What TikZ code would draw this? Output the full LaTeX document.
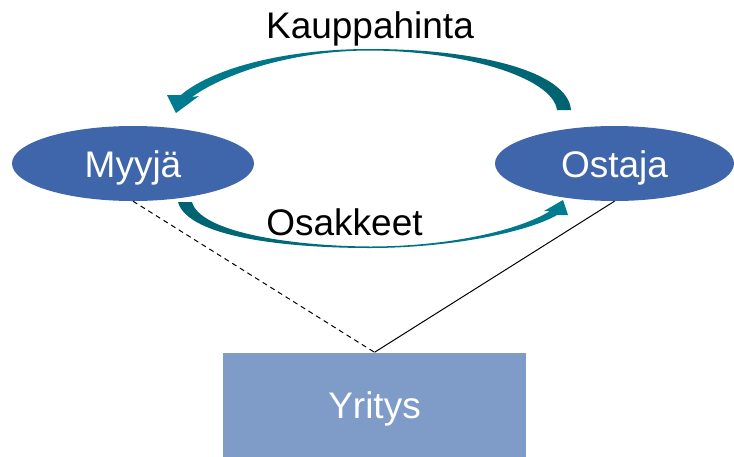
\documentclass[tikz,border=0pt]{standalone}
\usepackage{fontspec}
\setmainfont{Liberation Sans}
\usetikzlibrary{shapes.geometric}
\definecolor{partyblue}{RGB}{63,101,170}
\definecolor{firmblue}{RGB}{127,155,200}
\definecolor{tealdark}{RGB}{0,98,112}
\definecolor{teallight}{RGB}{0,124,144}
\definecolor{tealmid}{RGB}{40,140,158}
\tikzset{
  bigtext/.style={font=\fontsize{37pt}{44pt}\selectfont},
  party/.style={ellipse, fill=partyblue, draw=none, text=white, bigtext,
    minimum width=242pt, minimum height=75pt, inner sep=0pt,
    text height=27pt, text depth=0pt},
  firm/.style={rectangle, fill=firmblue, draw=none, text=white, bigtext,
    minimum width=303pt, minimum height=104pt, inner sep=0pt,
    text height=27pt, text depth=0pt},
  flowlabel/.style={bigtext, text=black, anchor=base, inner sep=0pt},
  link/.style={draw=black, line width=1pt},
  dashlink/.style={link, dash pattern=on 5pt off 4pt}
}
\begin{document}
\begin{tikzpicture}[x=1pt,y=-1pt]
\useasboundingbox (0,0) rectangle (734,456);
\node[party] (myyja) at (133,163.5) {Myyjä};
\node[party, minimum width=239pt] (ostaja) at (614.5,163.5) {Ostaja};
\node[firm] (yritys) at (374.5,404.5) {Yritys};
\draw[dashlink] (myyja.south) -- (yritys.north);
\draw[link] (ostaja.south) -- (yritys.north);
% top arrow: Ostaja -> Myyja
\shade[left color=teallight, middle color=tealmid, right color=tealdark]
  (571,110) .. controls (568,72) and (480,49) .. (370,49)
  .. controls (280,49) and (210,70) .. (181,95)
  -- (167,95) -- (176,113) -- (199,96) -- (192,97)
  .. controls (222,75) and (290,50.5) .. (370,50.5)
  .. controls (466,51) and (553,78) .. (557,110) -- cycle;
% bottom arrow: Myyja -> Ostaja
\shade[left color=tealdark, middle color=tealmid, right color=teallight]
  (178,202) .. controls (188,238) and (290,248) .. (370,248)
  .. controls (450,248) and (528,232) .. (557,215)
  -- (568,215) -- (563,200) -- (544,211) -- (550,211)
  .. controls (520,230) and (450,246.5) .. (370,246.5)
  .. controls (290,246) and (200,232) .. (192,202) -- cycle;
\node[flowlabel] (kauppahinta) at (370,38) {Kauppahinta};
\node[flowlabel] (osakkeet) at (344.5,235) {Osakkeet};
\end{tikzpicture}
\end{document}
